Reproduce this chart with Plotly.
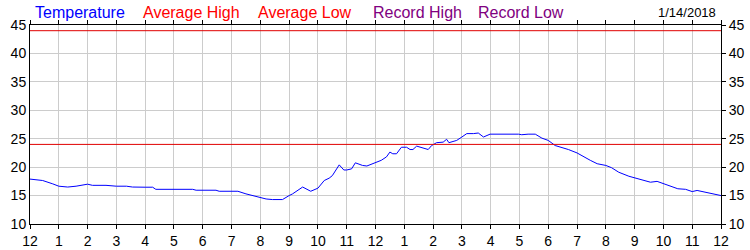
import plotly.graph_objects as go

# Hours since midnight (0..24) and temperature readings
hours = [0.0, 0.44, 0.79, 1.0, 1.31, 1.6, 2.0, 2.17, 2.64, 3.0, 3.35, 3.56, 4.0, 4.26, 4.37,
         5.0, 5.65, 5.77, 6.0, 6.46, 6.57, 7.0, 7.22, 7.5, 7.85, 8.0, 8.2, 8.42, 8.77, 9.0,
         9.12, 9.47, 9.75, 10.0, 10.22, 10.39, 10.5, 10.74, 10.9, 11.0, 11.17, 11.3, 11.55,
         11.7, 11.97, 12.2, 12.38, 12.5, 12.6, 12.73, 12.9, 13.08, 13.2, 13.3, 13.43, 13.6,
         13.83, 13.95, 14.12, 14.35, 14.47, 14.55, 14.82, 15.0, 15.17, 15.4, 15.57, 15.75,
         15.98, 16.97, 17.08, 17.3, 17.55, 17.78, 18.0, 18.24, 18.47, 18.7, 19.0, 19.23,
         19.46, 19.7, 20.0, 20.2, 20.45, 20.8, 21.0, 21.26, 21.55, 21.78, 22.0, 22.25, 22.5,
         22.77, 23.0, 23.17, 23.58, 24.0]
temperature = [17.9, 17.65, 17.06, 16.65, 16.5, 16.65, 17.0, 16.8, 16.8, 16.65, 16.65, 16.5,
               16.47, 16.47, 16.1, 16.1, 16.1, 15.94, 15.94, 15.94, 15.76, 15.76, 15.76, 15.3,
               14.9, 14.7, 14.4, 14.3, 14.3, 15.0, 15.3, 16.5, 15.76, 16.3, 17.65, 18.06, 18.5,
               20.4, 19.5, 19.5, 19.7, 20.76, 20.3, 20.2, 20.7, 21.2, 21.8, 22.65, 22.35, 22.35,
               23.5, 23.5, 23.1, 23.1, 23.7, 23.5, 23.1, 23.8, 24.3, 24.4, 24.9, 24.3, 24.7,
               25.3, 25.9, 25.9, 26.0, 25.3, 25.8, 25.8, 25.7, 25.8, 25.8, 25.1, 24.7, 23.8,
               23.5, 23.1, 22.5, 21.8, 21.2, 20.6, 20.3, 19.9, 19.1, 18.4, 18.1, 17.8, 17.35,
               17.5, 17.1, 16.6, 16.2, 16.1, 15.7, 15.9, 15.5, 15.0]

ref_hours = [0, 24]
upper_ref = [44, 44]
avg_high = [24, 24]

tick_vals = list(range(0, 25))
tick_text = ["12", "1", "2", "3", "4", "5", "6", "7", "8", "9", "10", "11",
             "12", "1", "2", "3", "4", "5", "6", "7", "8", "9", "10", "11", "12"]
y_ticks = [10, 15, 20, 25, 30, 35, 40, 45]

legend_names = ["Temperature", "Average High", "Average Low", "Record High", "Record Low"]
legend_colors = ["#0000FF", "#FF0000", "#FF0000", "#800080", "#800080"]
legend_x_px = [33, 141, 256, 371, 476]
date_text = "1/14/2018"

FONT = "Liberation Sans, Arial, sans-serif"

fig = go.Figure()
fig.add_trace(go.Scatter(x=ref_hours, y=upper_ref, mode="lines",
                         line=dict(color="#E00000", width=1), yaxis="y2", hoverinfo="skip"))
fig.add_trace(go.Scatter(x=ref_hours, y=avg_high, mode="lines",
                         line=dict(color="#E00000", width=1), yaxis="y2", hoverinfo="skip"))
fig.add_trace(go.Scatter(x=hours, y=temperature, mode="lines",
                         line=dict(color="#0000FF", width=1)))

L, R, T, B = 30, 29, 25, 26
W, H = 750, 250
pw = W - L - R
ph = H - T - B

annotations = []
for name, col, px in zip(legend_names, legend_colors, legend_x_px):
    annotations.append(dict(text=name, xref="paper", yref="paper",
                            x=(px - L) / pw, y=1 + (T - 13) / ph,
                            xanchor="left", yanchor="middle", showarrow=False,
                            font=dict(family=FONT, size=16, color=col)))
annotations.append(dict(text=date_text, xref="paper", yref="paper",
                        x=(718 - L) / pw, y=1 + (T - 13) / ph,
                        xanchor="right", yanchor="middle", showarrow=False,
                        font=dict(family=FONT, size=13, color="#000000")))

fig.update_layout(
    width=W, height=H,
    margin=dict(l=L, r=R, t=T, b=B, autoexpand=False),
    paper_bgcolor="white", plot_bgcolor="white",
    showlegend=False,
    font=dict(family=FONT, size=14, color="#000000"),
    annotations=annotations,
    xaxis=dict(range=[0, 24], tickvals=tick_vals, ticktext=tick_text,
               showgrid=True, gridcolor="#CCCCCC", gridwidth=1,
               showline=True, linecolor="#000000", linewidth=1, mirror="allticks",
               ticks="outside", ticklen=4, tickcolor="#000000",
               zeroline=False, fixedrange=True, automargin=False),
    yaxis=dict(range=[10, 45], tickvals=y_ticks,
               showgrid=True, gridcolor="#CCCCCC", gridwidth=1,
               showline=True, linecolor="#000000", linewidth=1, mirror=True,
               ticks="", zeroline=False, fixedrange=True, automargin=False),
    yaxis2=dict(range=[10, 45], tickvals=y_ticks, overlaying="y", side="right",
                showgrid=False, showline=False, ticks="outside", ticklen=4,
                tickcolor="#000000", zeroline=False, fixedrange=True, automargin=False),
)

fig.write_html("out.html")
